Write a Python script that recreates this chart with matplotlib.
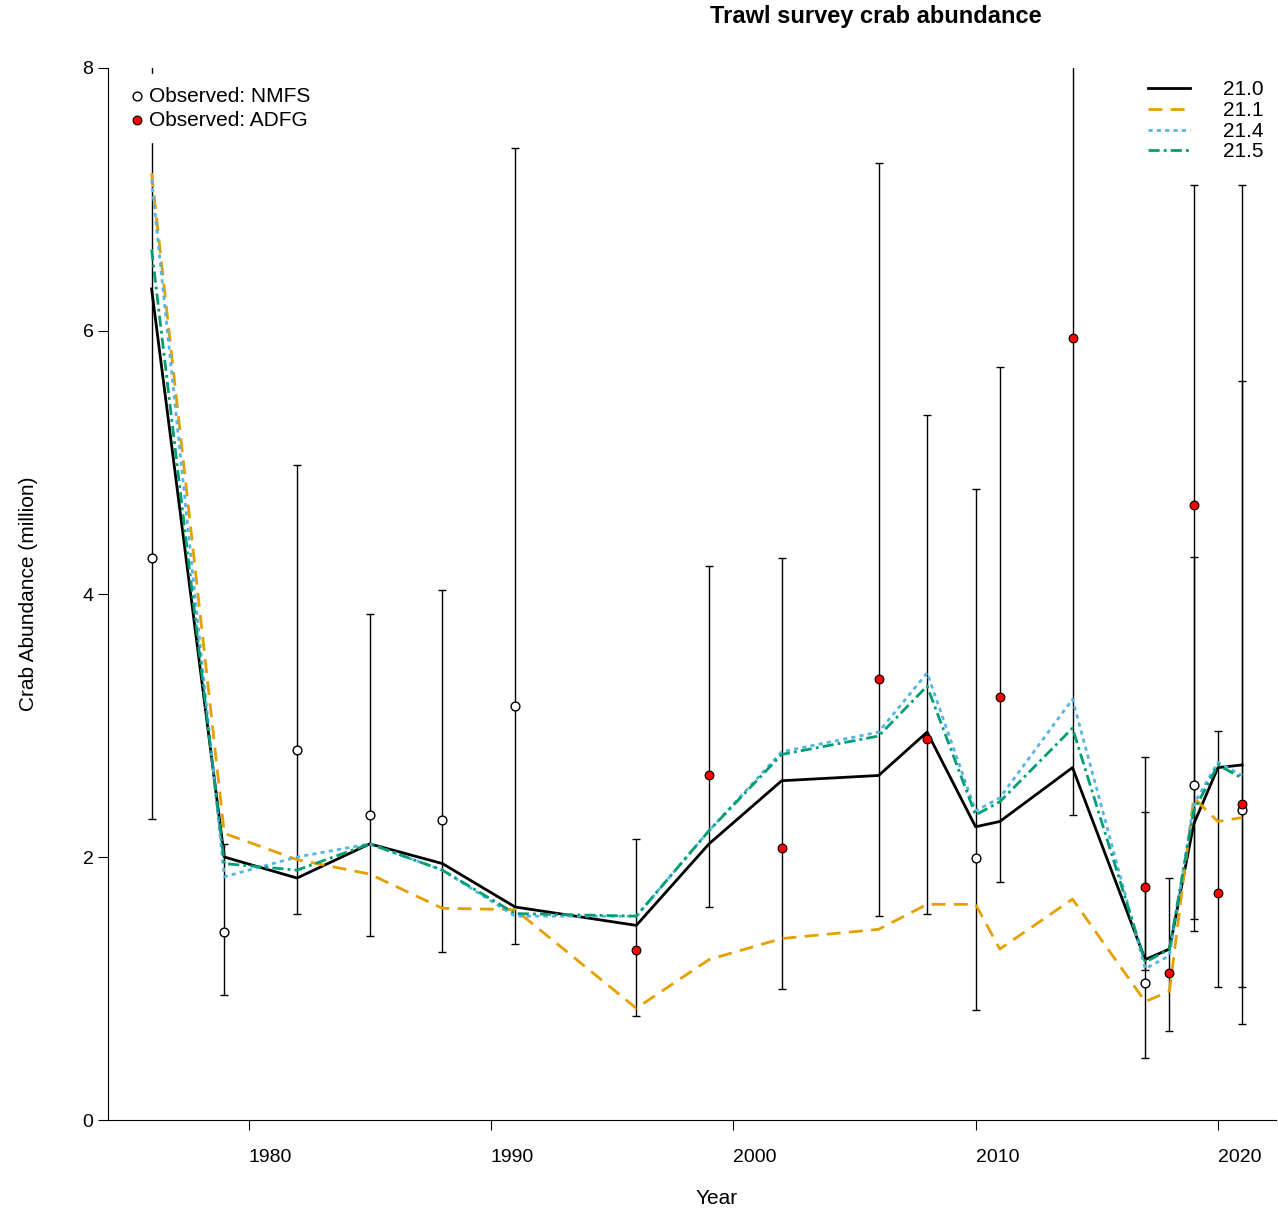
import matplotlib
matplotlib.use("Agg")
import matplotlib.pyplot as plt
import numpy as np

plt.rcParams['font.family'] = ['Liberation Sans', 'DejaVu Sans']

nmfs_years = [1976, 1979, 1982, 1985, 1988, 1991, 2010, 2017, 2019, 2021]
nmfs_obs   = [4.27, 1.43, 2.81, 2.32, 2.28, 3.15, 1.99, 1.04, 2.55, 2.36]
nmfs_lo    = [2.29, 0.95, 1.57, 1.40, 1.28, 1.34, 0.84, 0.47, 1.53, 0.73]
nmfs_hi    = [9.0, 2.1, 4.98, 3.85, 4.03, 7.39, 4.80, 2.34, 4.28, 5.62]

adfg_years = [1996, 1999, 2002, 2006, 2008, 2011, 2014, 2017, 2018, 2019, 2020, 2021]
adfg_obs   = [1.29, 2.62, 2.07, 3.35, 2.90, 3.22, 5.95, 1.77, 1.12, 4.68, 1.73, 2.40]
adfg_lo    = [0.79, 1.62, 1.00, 1.55, 1.57, 1.81, 2.32, 1.14, 0.68, 1.44, 1.01, 1.01]
adfg_hi    = [2.14, 4.21, 4.27, 7.28, 5.36, 5.73, 9.0, 2.76, 1.84, 7.11, 2.96, 7.11]

model_years = [1976, 1979, 1982, 1985, 1988, 1991, 1996, 1999, 2002, 2006, 2008,
               2010, 2011, 2014, 2017, 2018, 2019, 2020, 2021]
m210 = [6.32, 2.00, 1.84, 2.10, 1.95, 1.62, 1.48, 2.10, 2.58, 2.62, 2.95, 2.23, 2.27, 2.68, 1.22, 1.30, 2.25, 2.68, 2.70]
m211 = [7.20, 2.18, 1.98, 1.87, 1.61, 1.60, 0.85, 1.22, 1.38, 1.45, 1.64, 1.64, 1.30, 1.68, 0.90, 0.98, 2.45, 2.27, 2.30]
m214 = [7.15, 1.85, 2.00, 2.10, 1.90, 1.55, 1.55, 2.20, 2.80, 2.95, 3.40, 2.35, 2.45, 3.20, 1.15, 1.25, 2.40, 2.72, 2.62]
m215 = [6.62, 1.95, 1.90, 2.10, 1.90, 1.57, 1.55, 2.20, 2.78, 2.92, 3.30, 2.32, 2.42, 2.98, 1.20, 1.30, 2.35, 2.70, 2.60]

fig = plt.figure(figsize=(12.78, 12.12), dpi=100)
ax = fig.add_axes([0.0845, 0.0759, 0.914, 0.868])

ax.errorbar(nmfs_years, nmfs_obs,
            yerr=[np.array(nmfs_obs) - np.array(nmfs_lo), np.array(nmfs_hi) - np.array(nmfs_obs)],
            fmt='none', ecolor='black', elinewidth=1, capsize=3, zorder=2)
ax.errorbar(adfg_years, adfg_obs,
            yerr=[np.array(adfg_obs) - np.array(adfg_lo), np.array(adfg_hi) - np.array(adfg_obs)],
            fmt='none', ecolor='black', elinewidth=1, capsize=3, zorder=2)

l1, = ax.plot(model_years, m210, color='black', lw=2, label='21.0', zorder=3)
l2, = ax.plot(model_years, m211, color='#E69F00', lw=2, ls=(0, (5, 3)), label='21.1', zorder=3)
l3, = ax.plot(model_years, m214, color='#56B4E9', lw=2, ls=(0, (1.5, 1.5)), label='21.4', zorder=3)
l4, = ax.plot(model_years, m215, color='#009E73', lw=2, ls=(0, (4, 1.5, 1, 1.5)), label='21.5', zorder=3)

p1 = ax.scatter(nmfs_years, nmfs_obs, s=40, facecolor='white', edgecolor='black', lw=1, zorder=4, label='Observed: NMFS')
p2 = ax.scatter(adfg_years, adfg_obs, s=40, facecolor='red', edgecolor='black', lw=0.8, zorder=4, label='Observed: ADFG')

ax.set_xlim(1974.2, 2022.4)
ax.set_ylim(0, 8)
ax.set_yticks([0, 2, 4, 6, 8])
ax.set_xticks([1980, 1990, 2000, 2010, 2020])
for lab in ax.get_xticklabels():
    lab.set_horizontalalignment('left')
ax.tick_params(labelsize=14, direction='out', length=7)
ax.tick_params(axis='x', pad=14)
ax.spines['top'].set_visible(False)
ax.spines['right'].set_visible(False)
ax.set_ylabel('Crab Abundance (million)', fontsize=15, labelpad=32)
fig.text(0.561, 0.003, 'Year', fontsize=15, ha='center', va='bottom')

leg1 = ax.legend(handles=[p1, p2], loc='upper left', bbox_to_anchor=(-0.002, 1.0),
                 frameon=True, edgecolor='white', facecolor='white', framealpha=1,
                 fontsize=15, handletextpad=0.0, borderpad=0.6, labelspacing=0.25,
                 borderaxespad=0.3, handlelength=1.2)
leg1.set_zorder(10)
ax.add_artist(leg1)
leg2 = ax.legend(handles=[l1, l2, l3, l4], loc='upper right', bbox_to_anchor=(1.0, 1.0),
                 frameon=False, fontsize=15, handlelength=2.0, labelspacing=0.08,
                 handletextpad=1.6, borderaxespad=0.2)
for t in leg2.get_texts():
    t.set_horizontalalignment('right')

fig.text(0.685, 0.986, 'Trawl survey crab abundance', fontsize=17, fontweight='bold',
         ha='center', va='center')

fig.savefig('out.png', dpi=100)
